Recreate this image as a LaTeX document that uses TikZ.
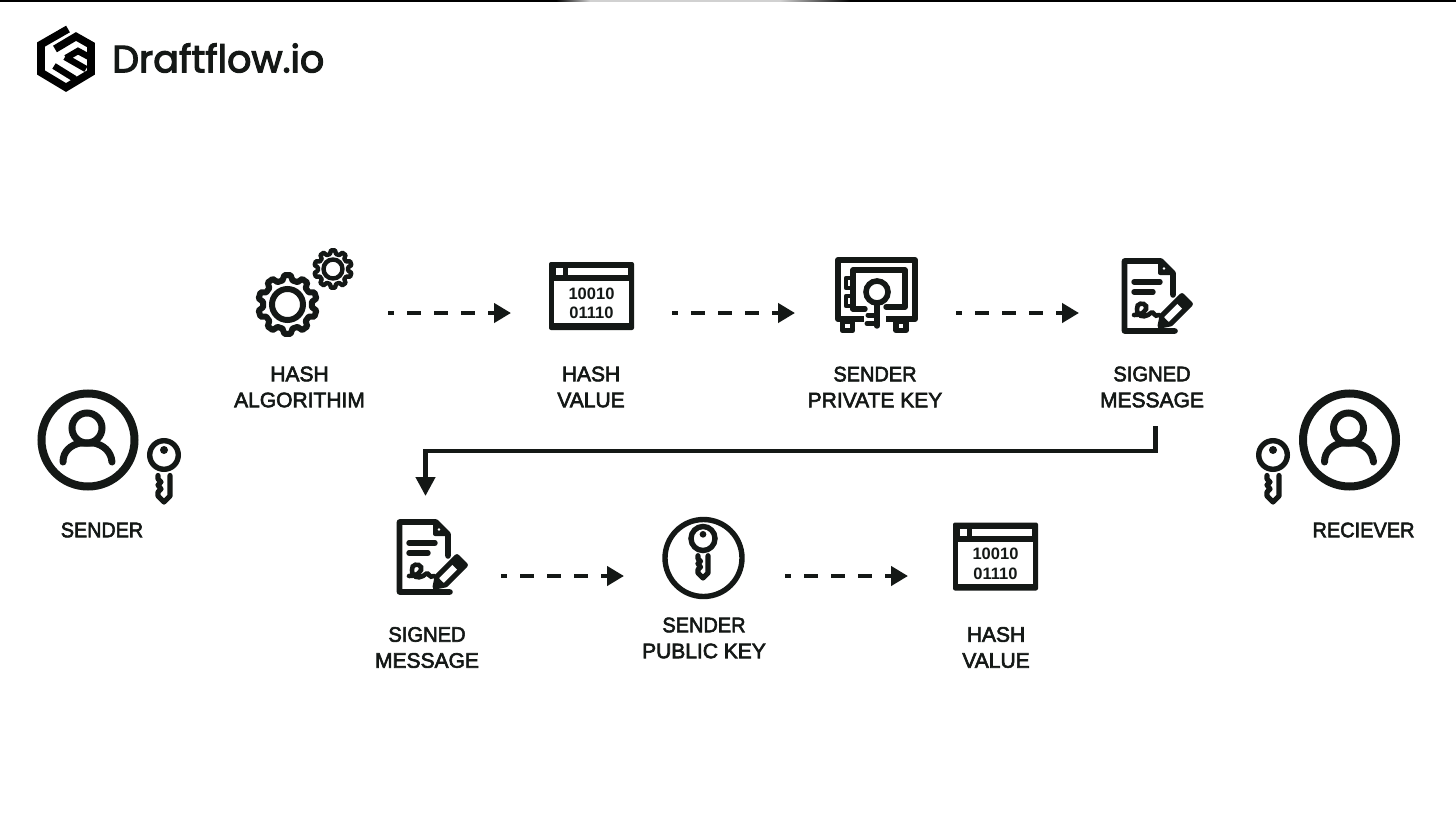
\documentclass[tikz,border=0pt]{standalone}
\usepackage{fontspec}
\usetikzlibrary{arrows.meta,shadings}
\setmainfont{Liberation Sans}
\newfontfamily\labfont{Liberation Sans}
\newfontfamily\logofont{Poppins}
\newfontfamily\bitfont{Liberation Sans}
\definecolor{ink}{HTML}{141816}
\newcommand{\medtext}[1]{\special{pdf:code 2 Tr 0.6 w}#1\special{pdf:code 0 Tr}}
\newcommand{\logotext}[1]{\special{pdf:code 2 Tr 1.1 w}#1\special{pdf:code 0 Tr}}
\newcommand{\sx}[2]{\scalebox{#1}[1]{#2}}
\newcommand{\gearicon}[6]{%
  \begin{scope}[shift={(#1,#2)}]
    \draw[ink,line width=#5,line join=round]
      ({90-12}:#4) \foreach \a in {90,126,162,198,234,270,306,342,378,414} {
        -- ({\a-12}:#4) -- ({\a-6}:#3) -- ({\a+6}:#3) -- ({\a+12}:#4) } -- cycle;
    \draw[ink,line width=#5] (0,0) circle[radius=#6];
  \end{scope}}
\tikzset{
  lab/.style={font=\labfont\fontsize{21}{26}\selectfont,text=ink,align=center,inner sep=0pt},
  iconbox/.style={inner sep=0pt,minimum width=#1,minimum height=#1},
  dasharrow/.style={ink,line width=4.6pt,dash pattern=on 14pt off 13pt,dash phase=8pt,-{Triangle[length=17pt,width=19pt]}},
  elbow/.style={ink,line width=4.4pt,-{Triangle[length=19pt,width=19pt]}},
  windowicon/.pic={
    \fill[ink,rounded corners=2pt] (-42.5,-34) rectangle (42.5,34);
    \fill[white] (-37.5,-15) rectangle (37.5,27);
    \fill[white] (-36,-28) rectangle (-29,-21);
    \fill[white] (-24,-28) rectangle (36,-21);
    \node[font=\bitfont\bfseries\fontsize{16.5}{19.5}\selectfont,text=ink,align=center,inner sep=0pt] at (0,7.3) {10010\\01110};
  },
  keyicon/.pic={
    \draw[ink,line width=5.4pt] (0,0) circle[radius=14.3];
    \fill[ink] (0,-5) circle[radius=4];
    \draw[ink,line width=5.2pt,line join=round,line cap=round]
      (6,20.5) -- (6,41) -- (0,47) -- (-6,41) -- (-6,37) -- (-3,34) -- (-6,30) -- (-3,27) -- (-6,24) -- (-6,20.5);
  },
  usericon/.pic={
    \draw[ink,line width=8pt] (0,0) circle[radius=46.5];
    \draw[ink,line width=7pt] (-1,-12) circle[radius=15];
    \draw[ink,line width=7pt,line cap=round]
      (-25,22) .. controls (-25,11) and (-17,5) .. (-8,3) -- (6,3) .. controls (15,5) and (23,11) .. (24,22);
  },
  docicon/.pic={
    \draw[ink,line width=5.6pt,line join=round,line cap=round]
      (53,73) -- (2.5,73) -- (2.5,3) -- (39,3) -- (51,15) -- (51,37);
    \draw[ink,line width=4pt,line join=round,fill=ink] (38,4) -- (38,15) -- (50,15) -- cycle;
    \fill[white] (42,10.5) circle[radius=1.4];
    \draw[ink,line width=5.4pt,line cap=round] (12,24) -- (38,24) (12,34) -- (31,34);
    \draw[ink,line width=4.6pt,line cap=round]
      (12,57) .. controls (19,58) and (26,52) .. (24,48) .. controls (22,44) and (14,45) .. (15,51)
      .. controls (15,58) and (21,60) .. (26,57) .. controls (29,55) and (30,53) .. (32,56)
      .. controls (33,58) and (35,58) .. (37,57);
    \begin{scope}[shift={(38,68)},rotate=45]
      \draw[ink,line width=5pt,line join=round] (0,0) -- (9,-6) -- (37,-6) -- (37,6) -- (9,6) -- cycle;
      \fill[ink] (28,-6) rectangle (37,6);
      \fill[ink] (0,0) -- (9,-5) -- (9,5) -- cycle;
    \end{scope}
  },
}
\begin{document}
\begin{tikzpicture}[x=1pt,y=-1pt]
\useasboundingbox (0,0) rectangle (1456,816);
\fill[white] (0,0) rectangle (1456,816);
% top edge
\fill[black] (0,0) rectangle (556,1.6);
\shade[left color=black,right color=black!18] (556,0) rectangle (590,1.6);
\fill[black!18] (590,0) rectangle (780,1.6);
\shade[left color=black!18,right color=black] (780,0) rectangle (850,1.6);
\fill[black] (850,0) rectangle (1456,1.6);
% logo
\begin{scope}
  \draw[black,line width=7.6pt,miter limit=6]
    (68,29) -- (41,44.5) -- (41,72.5) -- (66,87.5) -- (91,72.5) -- (91,45) -- (76,36.5) -- (55,49);
  \draw[black,line width=6.4pt] (66,58) -- (78,51) -- (91,58);
  \draw[black,line width=6.4pt] (65,57) -- (86,69);
  \draw[black,line width=6.4pt] (54,66) -- (75,79);
\end{scope}
\node[anchor=west,inner sep=0pt,font=\logofont\fontsize{38}{44}\selectfont,text=ink] (brand) at (112,58) {\logotext{Draftflow.io}};
% sender / receiver
\node[iconbox=100pt] (senderIcon) at (88,440) {};
\pic at (senderIcon.center) {usericon};
\node[iconbox=34pt] (senderKey) at (164,455) {};
\pic at (senderKey.center) {keyicon};
\node[lab] (senderLab) at (102,530) {\sx{0.94}{\medtext{SENDER}}};
\node[iconbox=100pt] (receiverIcon) at (1349.5,440) {};
\pic at (receiverIcon.center) {usericon};
\node[iconbox=34pt] (receiverKey) at (1273,455) {};
\pic at (receiverKey.center) {keyicon};
\node[lab] (receiverLab) at (1363.5,530) {\sx{0.95}{\medtext{RECIEVER}}};
% top row icons
\node[iconbox=60pt] (hashAlgo) at (288,305) {};
\gearicon{287.5}{304.5}{29.5}{24.5}{6pt}{15.5}
\gearicon{333}{269}{18.8}{15.2}{4.4pt}{9.5}
\node[lab] (hashAlgoLab) at (299.5,387) {\medtext{HASH}\\\medtext{ALGORITHIM}};
\node[iconbox=68pt] (hashVal) at (591.5,296) {};
\pic at (hashVal.center) {windowicon};
\node[lab] (hashValLab) at (591,387) {\medtext{HASH}\\\medtext{VALUE}};
\node[iconbox=70pt] (safe) at (876,295) {};
% safe
\draw[ink,line width=6pt,line join=round] (864,319) -- (838,319) -- (838,260) -- (915,260) -- (915,319) -- (886,319);
\draw[ink,line width=5.4pt,line join=round] (842.5,321) rectangle (852.5,330.5);
\draw[ink,line width=5.4pt,line join=round] (896,321) rectangle (906,330.5);
\draw[ink,line width=5.4pt,line join=round,line cap=round] (853,309) -- (853,270) -- (905,270) -- (905,307) -- (886,307);
\draw[ink,line width=5.4pt,line cap=round] (853,309) -- (865,309);
\draw[ink,line width=4.8pt,line join=round] (846,278) rectangle (853,288);
\draw[ink,line width=4.8pt,line join=round] (846,296) rectangle (853,306);
\draw[ink,line width=5.6pt] (877,292) circle[radius=11];
\draw[ink,line width=5.4pt,line cap=round] (877,304) -- (877,326);
\draw[ink,line width=5pt,line cap=round] (868,315) -- (877,315) (867,323.5) -- (877,323.5);
\node[lab] (safeLab) at (875,387) {\sx{0.95}{\medtext{SENDER}}\\\medtext{PRIVATE KEY}};
\node[iconbox=70pt] (signedA) at (1157,295) {};
\pic at (1122,258) {docicon};
\node[lab] (signedALab) at (1152,387) {\sx{0.96}{\medtext{SIGNED}}\\\medtext{MESSAGE}};
% bottom row icons
\node[iconbox=70pt] (signedB) at (432,556) {};
\pic at (397,519) {docicon};
\node[lab] (signedBLab) at (427,647.5) {\sx{0.96}{\medtext{SIGNED}}\\\medtext{MESSAGE}};
\node[draw=ink,line width=5.4pt,circle,minimum size=77pt,inner sep=0pt] (pubKey) at (703.5,558) {};
\pic[scale=0.84] at (703,538.5) {keyicon};
\node[lab] (pubKeyLab) at (704,638) {\sx{0.95}{\medtext{SENDER}}\\\medtext{PUBLIC KEY}};
\node[iconbox=68pt] (hashValB) at (995.5,556.5) {};
\pic at (hashValB.center) {windowicon};
\node[lab] (hashValBLab) at (996,647.5) {\medtext{HASH}\\\medtext{VALUE}};
% connector ends
\coordinate (a1s) at (388,313); \coordinate (a1e) at (511,313);
\coordinate (a2s) at (672,313); \coordinate (a2e) at (795,313);
\coordinate (a3s) at (956,313); \coordinate (a3e) at (1079,313);
\coordinate (b1s) at (501,576); \coordinate (b1e) at (624,576);
\coordinate (b2s) at (785,576); \coordinate (b2e) at (908,576);
\coordinate (e1) at (1155.5,426); \coordinate (e2) at (1155.5,451);
\coordinate (e3) at (425.5,451); \coordinate (e4) at (425.5,496);
\draw[dasharrow] (a1s) -- (a1e);
\draw[dasharrow] (a2s) -- (a2e);
\draw[dasharrow] (a3s) -- (a3e);
\draw[dasharrow] (b1s) -- (b1e);
\draw[dasharrow] (b2s) -- (b2e);
\draw[elbow] (e1) -- (e2) -- (e3) -- (e4);
\end{tikzpicture}
\end{document}
